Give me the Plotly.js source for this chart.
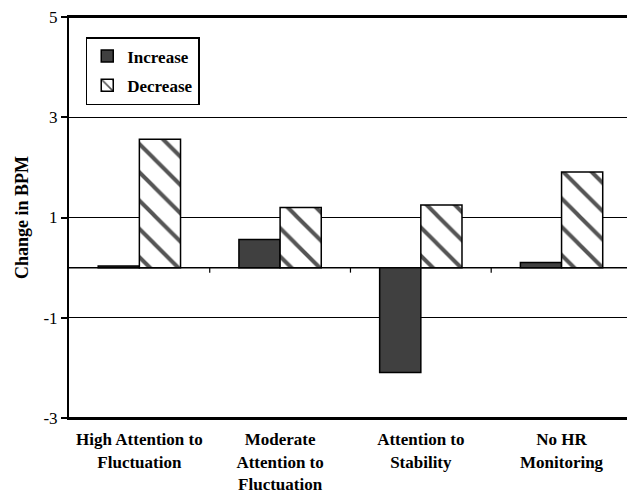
<!DOCTYPE html>
<html>
<head>
<meta charset="utf-8">
<script src="https://cdn.plot.ly/plotly-3.0.1.min.js"></script>
<style>html,body{margin:0;padding:0;background:#fff;}#chart{width:627px;height:493px;}</style>
</head>
<body>
<div id="chart"></div>
<script>
const categories = ["High Attention to<br>Fluctuation", "Moderate<br>Attention to<br>Fluctuation", "Attention to<br>Stability", "No HR<br>Monitoring"];
const increaseValues = [0.03, 0.56, -2.09, 0.1];
const decreaseValues = [2.56, 1.2, 1.25, 1.91];
const yTickValues = [-3, -1, 1, 3, 5];
const yTickLabels = ["-3", "-1", "1", "3", "5"];

const serif = "Liberation Serif, Times New Roman, serif";

const traces = [
  {
    type: "bar", name: "Increase", x: categories, y: increaseValues, legendgroup: "a",
    marker: {color: "#404040", line: {color: "#000", width: 1.5}},
    hoverinfo: "skip"
  },
  {
    type: "bar", name: "Decrease", x: categories, y: decreaseValues, legendgroup: "b",
    marker: {color: "#fff", line: {color: "#000", width: 1.5},
      pattern: {shape: "\\", fgcolor: "#555", bgcolor: "#fff", size: 20, solidity: 0.2}},
    hoverinfo: "skip"
  }
];

// small tick marks on the zero line at the category boundaries
const boundaryTicks = [0.5, 1.5, 2.5].map(b => ({
  type: "line", xref: "x", yref: "y", x0: b, x1: b, y0: 0, y1: -0.1,
  line: {color: "#000", width: 1.2}
}));

const frameLines = [
  {type: "line", xref: "paper", yref: "paper", x0: 0, x1: 1, y0: 1, y1: 1, line: {color: "#000", width: 2}},
  {type: "line", xref: "paper", yref: "paper", x0: 0, x1: 1, y0: 0, y1: 0, line: {color: "#000", width: 2}},
  {type: "line", xref: "paper", yref: "y", x0: 0, x1: 1, y0: 0, y1: 0, layer: "below", line: {color: "#000", width: 1.5}}
];

const layout = {
  width: 627, height: 493,
  margin: {l: 69, r: 0, t: 17, b: 75},
  paper_bgcolor: "#fff", plot_bgcolor: "#fff",
  barmode: "group", bargap: 0.415, bargroupgap: 0,
  font: {family: serif, color: "#000"},
  showlegend: true,
  legend: {
    x: 0.03, y: 0.95, xanchor: "left", yanchor: "top",
    bgcolor: "#fff", bordercolor: "#000", borderwidth: 1.5,
    font: {family: serif, size: 17, weight: "bold", color: "#000"},
    itemwidth: 30, traceorder: "grouped", tracegroupgap: 4
  },
  shapes: boundaryTicks.concat(frameLines),
  xaxis: {
    type: "category", range: [-0.5, 3.465],
    showline: true, linecolor: "#000", linewidth: 2, mirror: true,
    ticks: "", showgrid: false, zeroline: false, ticklabelstandoff: 5,
    tickfont: {family: serif, size: 17, weight: "bold", color: "#000"}
  },
  yaxis: {
    range: [-3, 5], tickvals: yTickValues, ticktext: yTickLabels,
    showline: true, linecolor: "#000", linewidth: 2,
    ticks: "outside", ticklen: 6, tickcolor: "#000", tickwidth: 1.5,
    showgrid: true, gridcolor: "#000", gridwidth: 1.3,
    zeroline: false,
    tickfont: {family: serif, size: 17, color: "#000"},
    title: {text: "Change in BPM", font: {family: serif, size: 18, weight: "bold", color: "#000"}, standoff: 10}
  }
};

Plotly.newPlot("chart", traces, layout, {displayModeBar: false});
</script>
</body>
</html>
